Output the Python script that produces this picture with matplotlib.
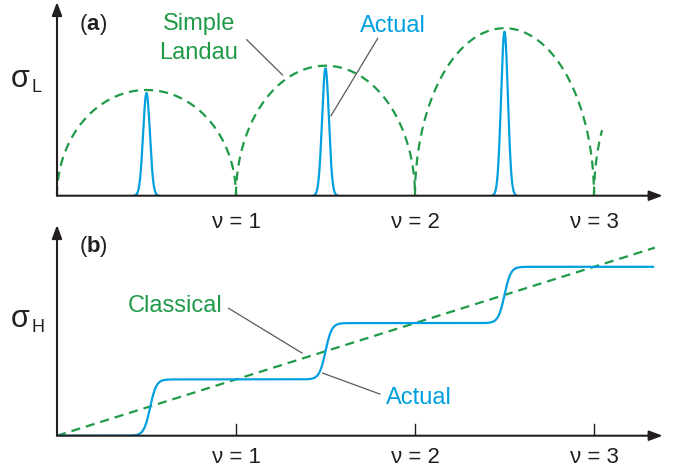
import numpy as np
import matplotlib.pyplot as plt

plt.rcParams['font.family'] = ['Liberation Sans', 'DejaVu Sans']

BLUE = '#00a0e0'
GREEN = '#1f9a48'
GRAY = '#58595b'
INK = '#231f20'

# (a) longitudinal conductivity: simple Landau arcs and actual narrow peaks
arc_centers = [0.5, 1.5, 2.5, 3.5]
arc_heights = [1.057, 1.30, 1.675, 1.58]
arc_right_end = [1.0, 2.0, 3.0, 3.045]   # last arc is cut short
peak_centers = [0.5, 1.5, 2.5]
peak_heights = [1.027, 1.274, 1.64]
peak_sigma = 0.019

# (b) Hall conductivity: classical line and actual plateaus
plateau_levels = [1, 2, 3]
step_centers = [0.52, 1.5, 2.5]
step_width = 0.035
classical_end = 3.34
actual_end = 3.33

tick_nu = [1, 2, 3]
tick_labels = ['ν = 1', 'ν = 2', 'ν = 3']

W, H = 688, 477
fig = plt.figure(figsize=(W / 100, H / 100), dpi=100)

def px_axes(left, top, right, bottom):
    return fig.add_axes([left / W, 1 - bottom / H, (right - left) / W, (bottom - top) / H])

def ftext(x, y, s, **kw):
    fig.text(x / W, 1 - y / H, s, **kw)

x_per_nu = 179.0
ax_a = px_axes(57, 0, 670, 196.7)
ax_b = px_axes(57, 220, 670, 436.7)
ax_a.set_xlim(0, 613 / x_per_nu)
ax_a.set_ylim(0, 1.967)
ax_b.set_xlim(0, 613 / x_per_nu)
ax_b.set_ylim(0, 216.7 / 56.3)
for ax in (ax_a, ax_b):
    ax.axis('off')

def draw_axes(ax, xtip, ytip):
    arrow = dict(arrowstyle='-|>,head_length=0.8,head_width=0.3', mutation_scale=10,
                 lw=1.5, color=INK, shrinkA=0, shrinkB=0)
    ax.annotate('', xy=(xtip, 0), xytext=(0, 0), arrowprops=arrow,
                annotation_clip=False, zorder=5)
    ax.annotate('', xy=(0, ytip), xytext=(0, 0), arrowprops=arrow,
                annotation_clip=False, zorder=5)

# --- panel (a)
for c, h, xr in zip(arc_centers, arc_heights, arc_right_end):
    t_end = np.arccos(np.clip((xr - c) / 0.5, -1, 1))
    t = np.linspace(np.pi, t_end, 300)
    ax_a.plot(c + 0.5 * np.cos(t), h * np.sin(t), color=GREEN, lw=1.6,
              dashes=(4.1, 2.7), clip_on=False, zorder=2)

for c, h in zip(peak_centers, peak_heights):
    x = np.linspace(c - 0.065, c + 0.065, 200)
    ax_a.plot(x, h * np.exp(-0.5 * ((x - c) / peak_sigma) ** 2), color=BLUE,
              lw=1.6, zorder=3)

draw_axes(ax_a, 605.7 / x_per_nu, 193.7 / 100)

ax_a.plot([1.060, 1.260], [1.56, 1.207], color=GRAY, lw=0.9)
ax_a.plot([1.792, 1.531], [1.574, 0.80], color=GRAY, lw=0.9)

# --- panel (b)
nu = np.linspace(0, actual_end, 1500)
sigma_h = np.zeros_like(nu)
prev = 0
for c, lev in zip(step_centers, plateau_levels):
    sigma_h += (lev - prev) * 0.5 * (1 + np.tanh((nu - c) / step_width))
    prev = lev
ax_b.plot(nu, sigma_h, color=BLUE, lw=1.6, zorder=3)
ax_b.plot([0, classical_end], [0, classical_end], color=GREEN, lw=1.6,
          dashes=(4.1, 2.7), zorder=2)

draw_axes(ax_b, 605.7 / x_per_nu, 210.7 / 56.3)
for t in tick_nu:
    ax_b.plot([t, t], [0, 12 / 56.3], color=INK, lw=1.0, zorder=5)

ax_b.plot([0.959, 1.369], [2.262, 1.468], color=GRAY, lw=0.9)
ax_b.plot([1.484, 1.804], [1.112, 0.739], color=GRAY, lw=0.9)

# --- labels
for t, lab in zip(tick_nu, tick_labels):
    ftext(57 + t * x_per_nu, 228.3, lab, fontsize=16, ha='center', va='baseline', color=INK)
    ftext(57 + t * x_per_nu, 463.3, lab, fontsize=16, ha='center', va='baseline', color=INK)

for y, letter in [(30, 'a'), (252, 'b')]:
    ftext(80, y, '(', fontsize=16, va='baseline', color=INK)
    ftext(86.8, y, letter, fontsize=16, fontweight='bold', va='baseline', color=INK)
    ftext(99.5, y, ')', fontsize=16, va='baseline', color=INK)

ftext(11, 87, 'σ', fontsize=22, va='baseline', color=INK)
ftext(31.5, 92, 'L', fontsize=13, va='baseline', color=INK)
ftext(11, 327, 'σ', fontsize=22, va='baseline', color=INK)
ftext(31.5, 332, 'H', fontsize=13, va='baseline', color=INK)

ftext(198.8, 30, 'Simple', fontsize=17, ha='center', va='baseline', color=GREEN)
ftext(198.8, 59.3, 'Landau', fontsize=17, ha='center', va='baseline', color=GREEN)
ftext(392.5, 32.3, 'Actual', fontsize=17, ha='center', va='baseline', color=BLUE)
ftext(175, 311.7, 'Classical', fontsize=17, ha='center', va='baseline', color=GREEN)
ftext(419.2, 404, 'Actual', fontsize=17, ha='center', va='baseline', color=BLUE)

fig.savefig('out.png', dpi=100)
